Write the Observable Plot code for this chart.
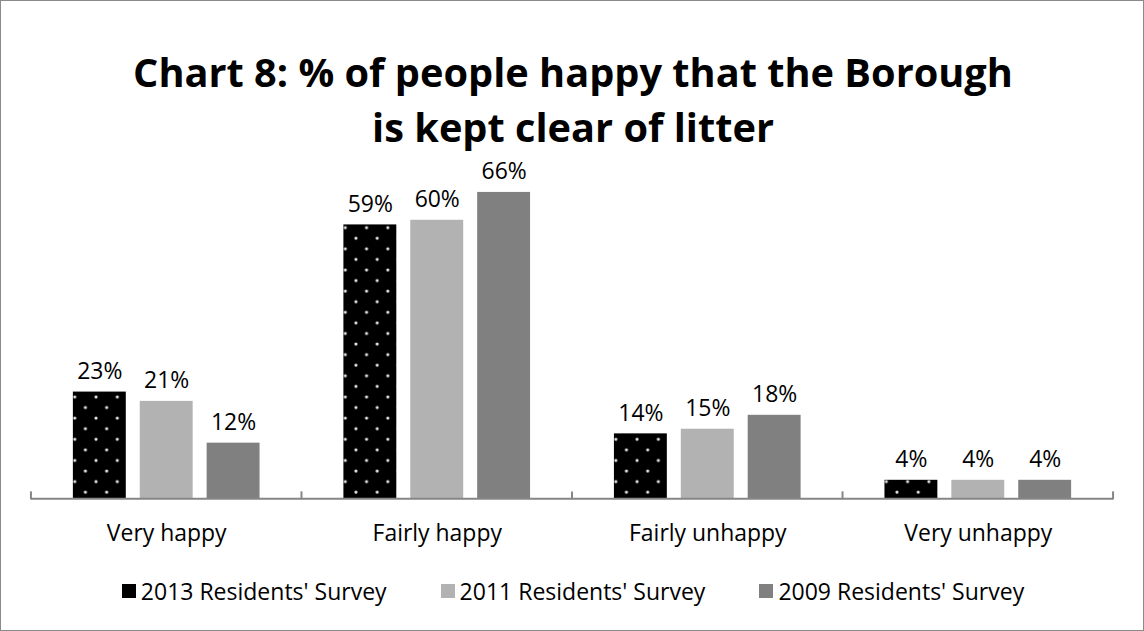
<!DOCTYPE html>
<html>
<head>
<meta charset="utf-8">
<script src="https://cdn.jsdelivr.net/npm/d3@7"></script>
<script src="https://cdn.jsdelivr.net/npm/@observablehq/plot@0.6"></script>
<style>
  html, body { margin: 0; padding: 0; background: #fff; }
  #frame { position: absolute; left: 0; top: 0; width: 1144px; height: 631px; box-sizing: border-box; border: 1.5px solid #8a8a8a; background: #fff; overflow: hidden; }
  #title { position: absolute; left: 0; top: 40px; width: 1144px; text-align: center; font-family: "Open Sans", sans-serif; font-weight: bold; color: #000; }
  #title div { height: 55px; line-height: 55px; }
  #title span { display: inline-block; line-height: 40px; vertical-align: middle; }
  #chart { position: absolute; left: 0; top: 140px; }
  #legend { position: absolute; left: 0; top: 574px; width: 1144px; display: flex; justify-content: center; align-items: center; font-family: "Open Sans", sans-serif; font-size: 23px; color: #000; }
  .item { display: flex; align-items: center; margin: 0 27px; }
  .sw { width: 14px; height: 14px; margin-right: 5px; display: inline-block; }
</style>
</head>
<body>
<div id="frame">
  <div id="title"><div><span id="t1">Chart 8: % of people happy that the Borough</span></div><div><span id="t2">is kept clear of litter</span></div></div>
  <div id="chart"></div>
  <div id="legend"></div>
</div>
<script>
const categories = ["Very happy", "Fairly happy", "Fairly unhappy", "Very unhappy"];
const series = ["2013 Residents' Survey", "2011 Residents' Survey", "2009 Residents' Survey"];
const values2013 = [23, 59, 14, 4];
const values2011 = [21, 60, 15, 4];
const values2009 = [12, 66, 18, 4];
const seriesFills = ["url(#dots)", "#b2b2b2", "#808080"];
const legendSwatch = ["#000000", "#b2b2b2", "#808080"];

const allValues = [values2013, values2011, values2009];
const data = [];
categories.forEach((c, i) => {
  series.forEach((s, j) => data.push({category: c, series: s, value: allValues[j][i]}));
});

// Fit title font size to target width
const title = document.getElementById("title");
const ctx = document.createElement("canvas").getContext("2d");
ctx.font = "bold 100px 'Open Sans'";
const w100 = ctx.measureText("Chart 8: % of people happy that the Borough").width;
title.style.fontSize = (100 * 880 / w100).toFixed(2) + "px";

const FONT = 23;
const chart = Plot.plot({
  width: 1144,
  height: 420,
  marginLeft: 29,
  marginRight: 29,
  marginTop: 32.4,
  marginBottom: 62,
  style: {fontFamily: "'Open Sans', sans-serif", fontSize: FONT + "px", color: "#000", background: "transparent", overflow: "visible"},
  fx: {domain: categories, padding: 0, label: null},
  x: {domain: series, paddingInner: 0.206, paddingOuter: 0.6, axis: null},
  y: {domain: [0, 70], axis: null},
  color: {domain: series, range: seriesFills},
  marks: [
    Plot.barY(data, {fx: "category", x: "series", y: "value", fill: "series"}),
    Plot.ruleY([0], {stroke: "#868686", strokeWidth: 2}),
    Plot.text(data, {fx: "category", x: "series", y: "value", text: d => d.value + "%", lineAnchor: "bottom", dy: -13, fill: "#000", fontSize: FONT}),
    Plot.axisFx({anchor: "bottom", tickSize: 0, tickPadding: 26, label: null, fontSize: FONT, fill: "#000"})
  ]
});

// pattern definition for the dotted bars
const svg = d3.select(chart);
const defs = svg.insert("defs", ":first-child");
const pat = defs.append("pattern").attr("id", "dots").attr("patternUnits", "userSpaceOnUse")
  .attr("width", 21.3).attr("height", 21.2).attr("x", 9).attr("y", 0);
pat.append("rect").attr("width", 21.3).attr("height", 21.2).attr("fill", "#000");
pat.append("circle").attr("cx", 0).attr("cy", 2).attr("r", 1.6).attr("fill", "#e6e6e6");
pat.append("circle").attr("cx", 21.3).attr("cy", 2).attr("r", 1.6).attr("fill", "#e6e6e6");
pat.append("circle").attr("cx", 10.65).attr("cy", 12.6).attr("r", 1.6).attr("fill", "#e6e6e6");

// axis tick marks at category boundaries (from the fx scale)
const fx = chart.scale("fx");
const yS = chart.scale("y");
const y0 = yS.apply(0);
const bounds = categories.map(c => fx.apply(c)).concat([fx.apply(categories[categories.length - 1]) + fx.bandwidth]);
const tg = svg.append("g").attr("stroke", "#868686").attr("stroke-width", 2);
bounds.forEach(b => {
  tg.append("line").attr("x1", b).attr("x2", b).attr("y1", y0 + 1).attr("y2", y0 - 7);
});

document.getElementById("chart").appendChild(chart);

// legend
const legend = document.getElementById("legend");
series.forEach((s, j) => {
  const item = document.createElement("div");
  item.className = "item";
  const sw = document.createElement("span");
  sw.className = "sw";
  sw.style.background = legendSwatch[j];
  const t = document.createElement("span");
  t.textContent = s;
  item.appendChild(sw);
  item.appendChild(t);
  legend.appendChild(item);
});
</script>
</body>
</html>
